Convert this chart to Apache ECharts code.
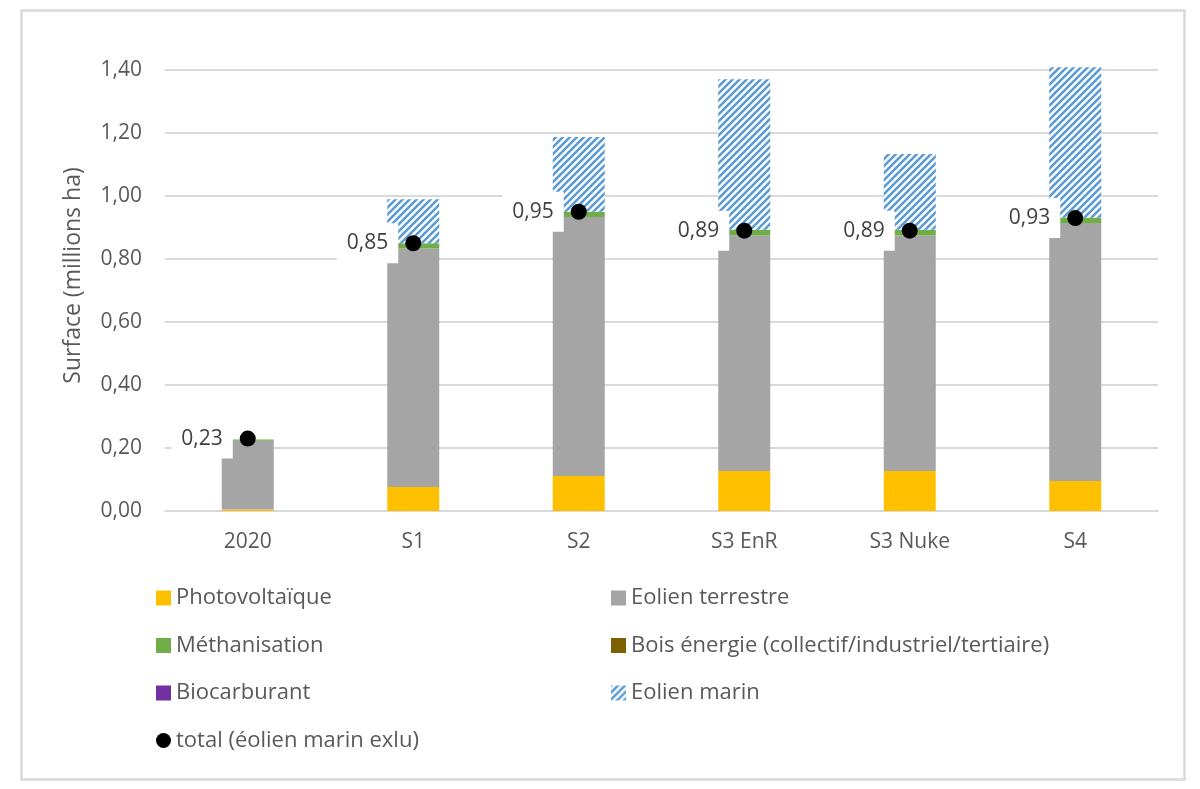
<!DOCTYPE html>
<html>
<head>
<meta charset="utf-8">
<script src="https://cdn.jsdelivr.net/npm/echarts@6/dist/echarts.min.js"></script>
<style>html,body{margin:0;padding:0;background:#fff}#c{width:1200px;height:789px}</style>
</head>
<body>
<div id="c"></div>
<script>
const categories = ['2020', 'S1', 'S2', 'S3 EnR', 'S3 Nuke', 'S4'];
const photovoltaique = [0.005, 0.076, 0.111, 0.127, 0.127, 0.095];
const eolienTerrestre = [0.218, 0.757, 0.822, 0.748, 0.748, 0.819];
const methanisation = [0.004, 0.017, 0.017, 0.018, 0.018, 0.018];
const boisEnergie = [0, 0, 0, 0, 0, 0];
const biocarburant = [0, 0, 0, 0, 0, 0];
const eolienMarin = [0, 0.14, 0.237, 0.478, 0.24, 0.477];
const total = [0.23, 0.85, 0.95, 0.89, 0.89, 0.93];
const yTicks = [0, 0.2, 0.4, 0.6, 0.8, 1.0, 1.2, 1.4];

const FONT = 'Open Sans';
const TXT = '#595959';
const FS = 21;
const LFS = 22;

function hatch() {
  const s = 7;
  const c = document.createElement('canvas');
  c.width = s; c.height = s;
  const g = c.getContext('2d');
  g.fillStyle = '#ffffff';
  g.fillRect(0, 0, s, s);
  g.strokeStyle = '#5B9BD5';
  g.lineWidth = 2.6;
  g.beginPath();
  g.moveTo(-1, s + 1); g.lineTo(s + 1, -1);
  g.moveTo(-1, 1); g.lineTo(1, -1);
  g.moveTo(s - 1, s + 1); g.lineTo(s + 1, s - 1);
  g.stroke();
  return c;
}
const hatchColor = { image: hatch(), repeat: 'repeat' };

const chart = echarts.init(document.getElementById('c'));
const barBase = { type: 'bar', stack: 'a', barWidth: 52, clip: false, emphasis: { disabled: true } };
const fmt = v => v.toFixed(2).replace('.', ',');

chart.setOption({
  animation: false,
  textStyle: { fontFamily: FONT },
  graphic: [{
    type: 'rect', left: 19, top: 8,
    shape: { width: 1163, height: 769 },
    style: { fill: 'none', stroke: '#D9D9D9', lineWidth: 2.5 }
  }],
  grid: { left: 165, right: 42, top: 70, bottom: 278 },
  legend: [{
    orient: 'vertical', left: 156, top: 587, padding: 0,
    itemWidth: 15, itemHeight: 15, itemGap: 25.5,
    textStyle: { fontFamily: FONT, fontSize: LFS, color: TXT, lineHeight: 22 },
    data: [
      { name: 'Photovoltaïque', icon: 'rect' },
      { name: 'Méthanisation', icon: 'rect' },
      { name: 'Biocarburant', icon: 'rect' },
      { name: 'total (éolien marin exlu)', icon: 'circle' }
    ]
  }, {
    orient: 'vertical', left: 611, top: 587, padding: 0,
    itemWidth: 15, itemHeight: 15, itemGap: 25.5,
    textStyle: { fontFamily: FONT, fontSize: LFS, color: TXT, lineHeight: 22 },
    data: [
      { name: 'Eolien terrestre', icon: 'rect' },
      { name: 'Bois énergie (collectif/industriel/tertiaire)', icon: 'rect' },
      { name: 'Eolien marin', icon: 'rect' }
    ]
  }],
  xAxis: {
    type: 'category', data: categories,
    axisLine: { lineStyle: { color: '#D9D9D9', width: 2 } },
    axisTick: { show: false },
    axisLabel: { fontFamily: FONT, fontSize: FS, color: TXT, margin: 21 }
  },
  yAxis: {
    type: 'value', min: yTicks[0], max: yTicks[yTicks.length - 1], interval: 0.2,
    name: 'Surface (millions ha)', nameLocation: 'middle', nameGap: 80,
    nameTextStyle: { fontFamily: FONT, fontSize: 23, color: TXT, padding: [0, 0, 0, 30] },
    axisLine: { show: false }, axisTick: { show: false },
    splitLine: { lineStyle: { color: '#D9D9D9', width: 2 } },
    axisLabel: { fontFamily: FONT, fontSize: FS, color: TXT, margin: 23, formatter: v => fmt(v) }
  },
  series: [
    Object.assign({}, barBase, { name: 'Photovoltaïque', data: photovoltaique, itemStyle: { color: '#FFC000' } }),
    Object.assign({}, barBase, { name: 'Eolien terrestre', data: eolienTerrestre, itemStyle: { color: '#A5A5A5' } }),
    Object.assign({}, barBase, { name: 'Méthanisation', data: methanisation, itemStyle: { color: '#70AD47' } }),
    Object.assign({}, barBase, { name: 'Bois énergie (collectif/industriel/tertiaire)', data: boisEnergie, itemStyle: { color: '#7F6000' } }),
    Object.assign({}, barBase, { name: 'Biocarburant', data: biocarburant, itemStyle: { color: '#7030A0' } }),
    Object.assign({}, barBase, { name: 'Eolien marin', data: eolienMarin, itemStyle: { color: hatchColor } }),
    {
      name: 'total (éolien marin exlu)', type: 'scatter', data: total, z: 10,
      symbol: 'circle', symbolSize: 16, itemStyle: { color: '#000000', opacity: 1 },
      emphasis: { disabled: true },
      label: {
        show: true, position: 'left', distance: 7,
        formatter: p => fmt(p.value),
        fontFamily: FONT, fontSize: FS, color: '#404040',
        backgroundColor: '#ffffff', padding: [10, 10, 9, 10]
      }
    }
  ]
});
</script>
</body>
</html>
